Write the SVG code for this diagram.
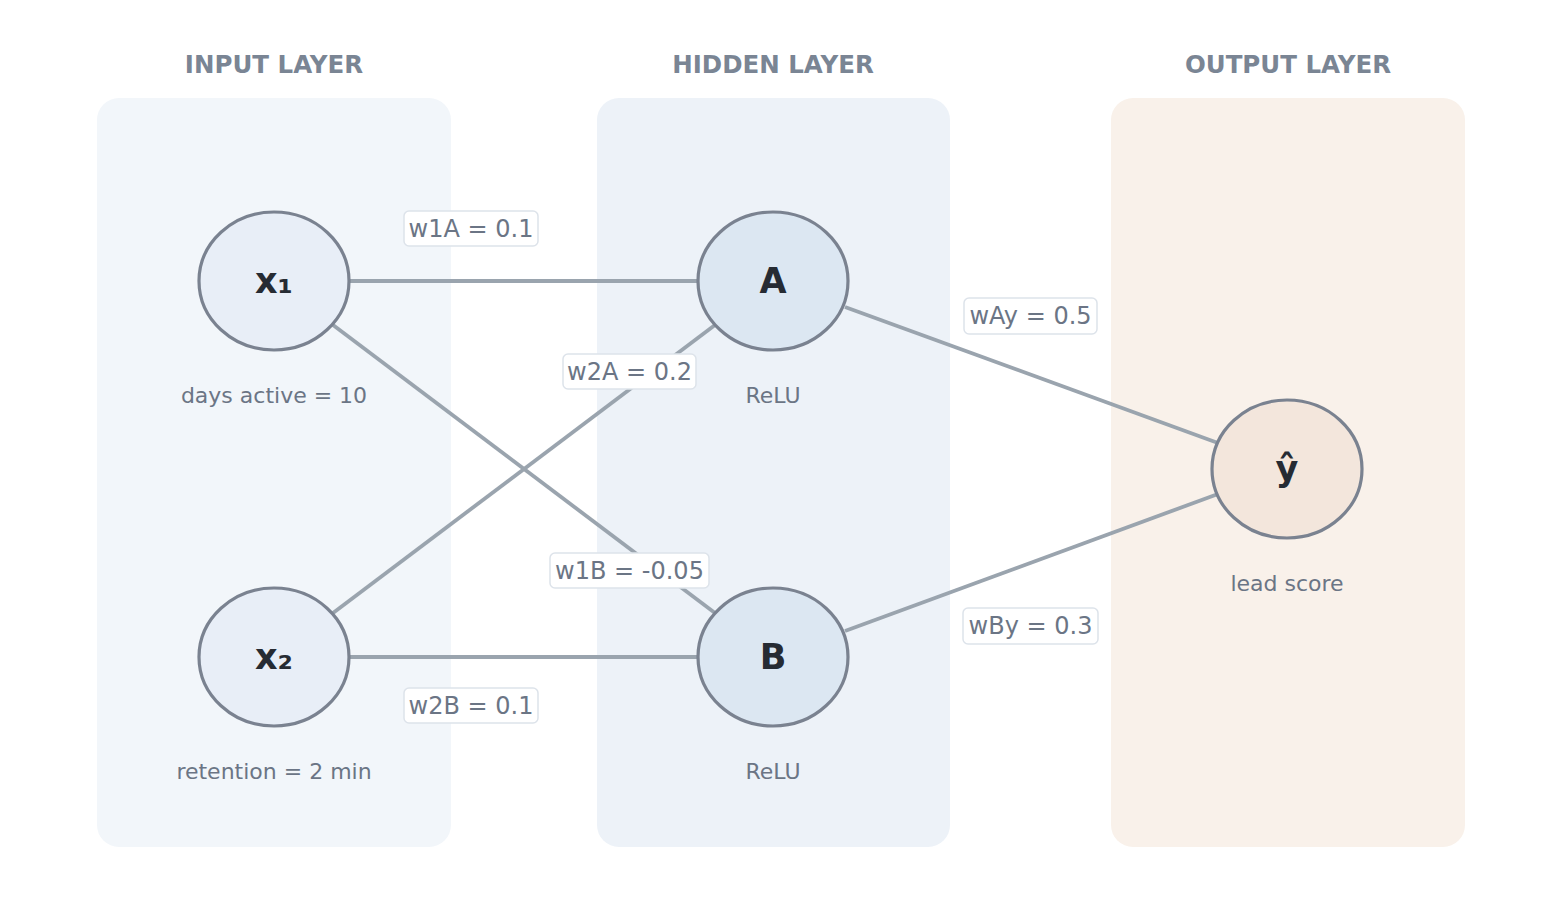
<svg xmlns="http://www.w3.org/2000/svg" width="1546" height="901" viewBox="0 0 1546 901">
<style>
.title{font-family:"DejaVu Sans",sans-serif;font-size:24.5px;font-weight:bold;fill:#7a8594;text-anchor:middle}
.node{stroke:#7a8290;stroke-width:3.2}
.nl{font-family:"DejaVu Sans",sans-serif;font-size:35px;font-weight:bold;fill:#262b33;text-anchor:middle;dominant-baseline:central}
.sub{font-family:"DejaVu Sans",sans-serif;font-size:22px;fill:#6b7585;text-anchor:middle}
.edge{stroke:#9aa4ae;stroke-width:3.8;fill:none}
.lb rect{fill:#fff;stroke:#dde3ea;stroke-width:1.5}
.lb text{font-family:"DejaVu Sans",sans-serif;font-size:24px;fill:#6b7585;text-anchor:middle;dominant-baseline:central}
</style>
<rect width="1546" height="901" fill="#fff"/>
<g id="panels">
<rect x="97" y="98" width="354" height="749" rx="22" fill="#f2f6fa"/>
<rect x="597" y="98" width="353" height="749" rx="22" fill="#edf2f8"/>
<rect x="1111" y="98" width="354" height="749" rx="22" fill="#f9f1ea"/>
<text class="title" x="274" y="73">INPUT LAYER</text>
<text class="title" x="773" y="73">HIDDEN LAYER</text>
<text class="title" x="1288" y="73">OUTPUT LAYER</text>
</g>
<g id="connectors">
<line class="edge" x1="350" y1="281" x2="698" y2="281"/>
<line class="edge" x1="333" y1="325" x2="715" y2="613"/>
<line class="edge" x1="333" y1="613" x2="715" y2="325"/>
<line class="edge" x1="350" y1="657" x2="698" y2="657"/>
<line class="edge" x1="845" y1="307" x2="1218" y2="443"/>
<line class="edge" x1="845" y1="631" x2="1218" y2="494"/>
<g class="lb"><rect x="404" y="211" width="134" height="35" rx="5"/><text x="471" y="228.5">w1A = 0.1</text></g>
<g class="lb"><rect x="563" y="354" width="133" height="35" rx="5"/><text x="629.5" y="371.5">w2A = 0.2</text></g>
<g class="lb"><rect x="550" y="553" width="159" height="35" rx="5"/><text x="629.5" y="570.5">w1B = -0.05</text></g>
<g class="lb"><rect x="404" y="688" width="134" height="35" rx="5"/><text x="471" y="705.5">w2B = 0.1</text></g>
<g class="lb"><rect x="964" y="298" width="133" height="36" rx="5"/><text x="1030.5" y="316">wAy = 0.5</text></g>
<g class="lb"><rect x="963" y="608" width="135" height="36" rx="5"/><text x="1030.5" y="626">wBy = 0.3</text></g>
</g>
<g id="x1"><ellipse class="node" cx="274" cy="281" rx="75" ry="69" fill="#e8eef7"/><text class="nl" x="274" y="281">x₁</text><text class="sub" x="274" y="403">days active = 10</text></g>
<g id="x2"><ellipse class="node" cx="274" cy="657" rx="75" ry="69" fill="#e8eef7"/><text class="nl" x="274" y="657">x₂</text><text class="sub" x="274" y="779">retention = 2 min</text></g>
<g id="A"><ellipse class="node" cx="773" cy="281" rx="75" ry="69" fill="#dce7f2"/><text class="nl" x="773" y="281">A</text><text class="sub" x="773" y="403">ReLU</text></g>
<g id="B"><ellipse class="node" cx="773" cy="657" rx="75" ry="69" fill="#dce7f2"/><text class="nl" x="773" y="657">B</text><text class="sub" x="773" y="779">ReLU</text></g>
<g id="yhat"><ellipse class="node" cx="1287" cy="469" rx="75" ry="69" fill="#f3e6dc"/><text class="nl" x="1287" y="469">ŷ</text><text class="sub" x="1287" y="591">lead score</text></g>
</svg>
